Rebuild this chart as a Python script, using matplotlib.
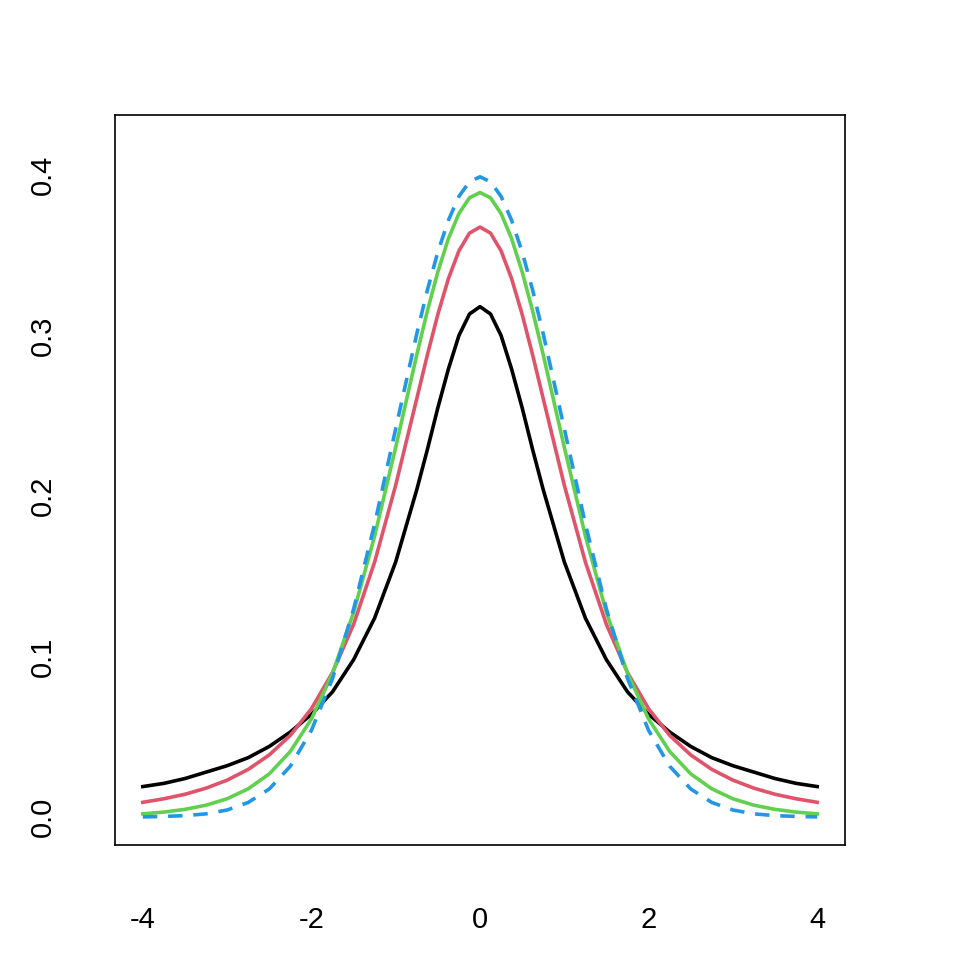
import numpy as np
import matplotlib
matplotlib.use("Agg")
import matplotlib.pyplot as plt

# half-grid x values (0..4) and curve heights; curves are symmetric
x_half = [0, 0.125, 0.25, 0.375, 0.5, 0.625, 0.75, 1, 1.25, 1.5, 1.75, 2, 2.25, 2.5, 2.75, 3, 3.25, 3.5, 3.75, 4]
black_half = [0.318, 0.3134, 0.300, 0.2791, 0.255, 0.2288, 0.204, 0.159, 0.124, 0.098, 0.078, 0.064, 0.053, 0.044, 0.037, 0.032, 0.028, 0.024, 0.021, 0.019]
red_half = [0.3676, 0.3638, 0.3528, 0.3354, 0.3132, 0.2878, 0.2607, 0.2068, 0.1589, 0.1200, 0.0900, 0.0675, 0.0509, 0.0387, 0.0297, 0.0230, 0.0180, 0.0142, 0.0114, 0.0092]
green_half = [0.3891, 0.3858, 0.3760, 0.3604, 0.3397, 0.3152, 0.2880, 0.2304, 0.1751, 0.1274, 0.0895, 0.0611, 0.0409, 0.0269, 0.0176, 0.0114, 0.0074, 0.0048, 0.0031, 0.0020]
blue_half = [0.3989, 0.3958, 0.3867, 0.3718, 0.3521, 0.3282, 0.3011, 0.2420, 0.1826, 0.1295, 0.0863, 0.0540, 0.0317, 0.0175, 0.0091, 0.0044, 0.0020, 0.0009, 0.0004, 0.0001]
xticks = [-4, -2, 0, 2, 4]
yticks = [0.0, 0.1, 0.2, 0.3, 0.4]

def full(h):
    return np.concatenate([np.array(h[:0:-1]), np.array(h)])
x = np.concatenate([-np.array(x_half[:0:-1]), np.array(x_half)])

plt.rcParams['font.family'] = ['Liberation Sans', 'DejaVu Sans']
fig = plt.figure(figsize=(9.6, 9.6), dpi=100)
ax = fig.add_axes([115/960, 115/960, 730/960, 730/960])
lw = 2.6
ax.plot(x, full(black_half), color='black', lw=lw)
ax.plot(x, full(red_half), color='#DF536B', lw=lw)
ax.plot(x, full(green_half), color='#61D04F', lw=lw)
ax.plot(x, full(blue_half), color='#2297E6', lw=lw, ls=(0, (4, 3)))
ax.set_xlim(-4.33, 4.33)
ax.set_ylim(-0.0174, 0.4374)
for s in ax.spines.values():
    s.set_linewidth(1.2)
ax.set_xticks(xticks)
ax.set_xticklabels(['-4', '-2', '0', '2', '4'])
ax.set_yticks(yticks)
ax.set_yticklabels(['0.0', '0.1', '0.2', '0.3', '0.4'], rotation=90, va='center')
ax.tick_params(axis='x', labelsize=21, length=0, pad=44)
ax.tick_params(axis='y', labelsize=21, length=0, pad=42)
fig.savefig('out.png', dpi=100)
